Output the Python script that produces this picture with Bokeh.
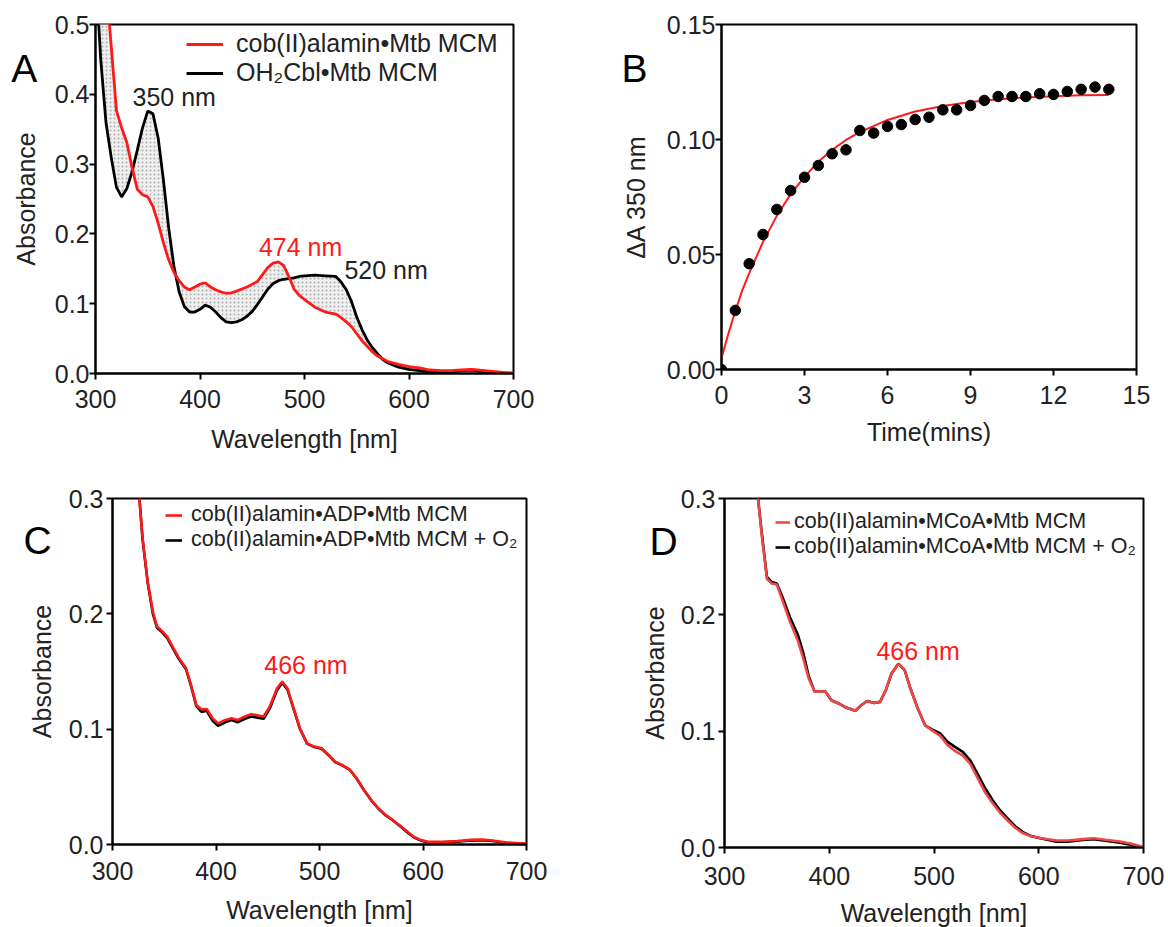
from bokeh.plotting import figure
from bokeh.models import Range1d, FixedTicker, PrintfTickFormatter, Label, Legend, LegendItem
from bokeh.layouts import row, column
from bokeh.embed import file_html
from bokeh.resources import INLINE

FONT = "Liberation Sans"
TXT = "#222222"

# ---------------- Panel A data ----------------
wl_A = [300, 305, 310, 315, 320, 325, 330, 335, 340, 345, 350, 355, 360, 365, 370, 375, 380, 385, 390, 395,
        400, 405, 410, 415, 420, 425, 430, 435, 440, 445, 450, 455, 460, 465, 470, 475, 480, 485, 490, 495,
        500, 510, 520, 530, 535, 540, 545, 550, 555, 560, 565, 570, 575, 580, 590, 600, 610, 620, 630, 640,
        650, 660, 670, 680, 690, 700]
abs_A_oh2cbl = [0.58, 0.45, 0.36, 0.31, 0.267, 0.253, 0.265, 0.289, 0.320, 0.352, 0.376, 0.372, 0.337, 0.277,
                0.209, 0.154, 0.117, 0.096, 0.088, 0.088, 0.092, 0.098, 0.095, 0.088, 0.080, 0.074, 0.073, 0.074,
                0.077, 0.082, 0.089, 0.099, 0.110, 0.121, 0.129, 0.133, 0.135, 0.136, 0.137, 0.139, 0.140,
                0.141, 0.140, 0.139, 0.131, 0.120, 0.103, 0.081, 0.063, 0.048, 0.037, 0.028, 0.020, 0.015,
                0.009, 0.006, 0.004, 0.002, 0.0015, 0.002, 0.004, 0.005, 0.003, 0.001, 0.0005, 0.0]
abs_A_cob = [0.80, 0.68, 0.56, 0.47, 0.377, 0.352, 0.331, 0.295, 0.264, 0.256, 0.253, 0.239, 0.215, 0.187,
             0.163, 0.145, 0.133, 0.124, 0.120, 0.124, 0.128, 0.130, 0.124, 0.120, 0.117, 0.115, 0.1155, 0.118,
             0.121, 0.124, 0.128, 0.132, 0.142, 0.152, 0.158, 0.160, 0.155, 0.139, 0.121, 0.112, 0.106,
             0.095, 0.088, 0.085, 0.080, 0.074, 0.067, 0.057, 0.047, 0.039, 0.031, 0.025, 0.021, 0.017,
             0.013, 0.010, 0.008, 0.005, 0.004, 0.004, 0.005, 0.006, 0.0045, 0.003, 0.0015, 0.001]

# ---------------- Panel B data ----------------
time_B = [0, 0.5, 1, 1.5, 2, 2.5, 3, 3.5, 4, 4.5, 5, 5.5, 6, 6.5, 7, 7.5, 8, 8.5, 9, 9.5,
          10, 10.5, 11, 11.5, 12, 12.5, 13, 13.5, 14]
dA350_B = [0.000, 0.0257, 0.046, 0.0587, 0.0696, 0.0778, 0.0836, 0.0887, 0.0938, 0.0955,
           0.1039, 0.1028, 0.1057, 0.1065, 0.1087, 0.1097, 0.1129, 0.1129, 0.1148, 0.1170,
           0.1187, 0.1187, 0.1187, 0.1199, 0.1196, 0.1209, 0.1218, 0.1228, 0.1218]
fit_time_B = [0, 0.25, 0.5, 0.75, 1, 1.5, 2, 2.5, 3, 3.5, 4, 4.5, 5, 6, 7, 8, 9, 10, 11, 12, 13, 14]
fit_dA350_B = [0.005, 0.0156, 0.0254, 0.0344, 0.0418, 0.0555, 0.0668, 0.0763, 0.0838, 0.0903, 0.0955,
               0.0998, 0.1032, 0.1085, 0.1122, 0.1146, 0.1163, 0.1175, 0.1183, 0.1188, 0.1192, 0.1194]

# ---------------- Panel C data ----------------
wl_C = [320, 326, 329, 334, 339, 343, 348, 353, 359, 364, 371, 376, 381, 386, 391, 397, 402, 409, 415, 421,
        428, 434, 440, 446, 452, 459, 464, 469, 474, 481, 488, 495, 502, 509, 515, 522, 529, 536, 543, 550,
        557, 564, 571, 578, 585, 591, 598, 605, 619, 633, 646, 657, 667, 681, 698, 700]
abs_C_adp = [0.36, 0.30, 0.266, 0.228, 0.202, 0.189, 0.185, 0.180, 0.170, 0.162, 0.153, 0.138, 0.121, 0.117,
             0.1175, 0.109, 0.105, 0.108, 0.1095, 0.108, 0.111, 0.113, 0.112, 0.111, 0.1196, 0.1355, 0.1413,
             0.1355, 0.121, 0.1008, 0.0877, 0.0849, 0.0834, 0.0776, 0.0718, 0.0689, 0.0652, 0.0573, 0.0472,
             0.0385, 0.0313, 0.0255, 0.0211, 0.0162, 0.011, 0.0067, 0.0038, 0.0023, 0.0023, 0.0029, 0.004,
             0.0043, 0.0035, 0.0017, 0.0009, 0.0008]
abs_C_adp_o2 = [0.36, 0.30, 0.265, 0.227, 0.200, 0.188, 0.184, 0.179, 0.169, 0.161, 0.152, 0.137, 0.120, 0.115,
                0.1160, 0.107, 0.103, 0.106, 0.1080, 0.106, 0.109, 0.111, 0.110, 0.109, 0.1180, 0.1340, 0.1400,
                0.1345, 0.1205, 0.1005, 0.0875, 0.0845, 0.0830, 0.0772, 0.0715, 0.0686, 0.0650, 0.0570, 0.0470,
                0.0383, 0.0310, 0.0252, 0.0208, 0.0158, 0.0105, 0.0062, 0.0033, 0.0019, 0.0019, 0.0024, 0.0034,
                0.0037, 0.0030, 0.0013, 0.0006, 0.0005]

# ---------------- Panel D data ----------------
wl_D = [328, 332, 336, 340.5, 345, 350, 355.5, 362.5, 370, 375, 380.5, 386, 391, 396.5, 402, 409, 416, 425,
        430.5, 436, 443, 448.5, 454, 459.5, 466, 472, 477, 484.5, 491.5, 498.5, 506, 513, 520, 527.5, 534.5,
        541.5, 549, 556, 563, 570.5, 577.5, 584.5, 592, 602.5, 617, 627.5, 642, 652.5, 663.5, 677.5, 688.5, 700]
abs_D_mcoa_o2 = [0.34, 0.30, 0.267, 0.2326, 0.2283, 0.227, 0.215, 0.198, 0.183, 0.168, 0.147, 0.134, 0.134,
                 0.134, 0.1266, 0.1238, 0.1203, 0.1175, 0.1223, 0.126, 0.1243, 0.1252, 0.1352, 0.1496, 0.158,
                 0.1524, 0.138, 0.1195, 0.105, 0.1014, 0.098, 0.0908, 0.0865, 0.0822, 0.075, 0.0636, 0.0507,
                 0.0407, 0.0321, 0.0249, 0.0183, 0.0135, 0.010, 0.0077, 0.0050, 0.0050, 0.0065, 0.0072, 0.0058,
                 0.0042, 0.0022, 0.0]
abs_D_mcoa = [0.34, 0.30, 0.265, 0.231, 0.227, 0.226, 0.212, 0.194, 0.178, 0.163, 0.145, 0.134, 0.134, 0.134,
              0.1266, 0.1238, 0.1203, 0.1175, 0.1223, 0.126, 0.1243, 0.1252, 0.1352, 0.1496, 0.158, 0.1524,
              0.138, 0.1195, 0.105, 0.1005, 0.096, 0.088, 0.083, 0.079, 0.072, 0.060, 0.047, 0.038, 0.030,
              0.023, 0.017, 0.0125, 0.0098, 0.0079, 0.0060, 0.0060, 0.0072, 0.0080, 0.0066, 0.0052, 0.0032, 0.0005]

wl_ticks = [300, 400, 500, 600, 700]


def make_fig(xr, yr, fw, fh, bl, br, bt, bb):
    p = figure(x_range=Range1d(*xr), y_range=Range1d(*yr), frame_width=fw, frame_height=fh,
               min_border_left=bl, min_border_right=br, min_border_top=bt, min_border_bottom=bb,
               output_backend="svg", toolbar_location=None, tools="")
    p.xgrid.visible = False
    p.ygrid.visible = False
    p.outline_line_color = "black"
    p.outline_line_width = 2
    p.background_fill_color = "white"
    p.border_fill_color = "white"
    for ax in (p.xaxis[0], p.yaxis[0]):
        ax.axis_line_width = 2
        ax.axis_line_color = "black"
        ax.major_tick_line_width = 2
        ax.major_tick_line_color = "black"
        ax.major_tick_out = 6
        ax.major_tick_in = 0
        ax.minor_tick_out = 0
        ax.minor_tick_in = 0
        ax.major_label_text_font = FONT
        ax.major_label_text_font_size = "25px"
        ax.major_label_text_color = TXT
        ax.axis_label_text_font = FONT
        ax.axis_label_text_font_size = "25px"
        ax.axis_label_text_font_style = "normal"
        ax.axis_label_text_color = TXT
    return p


def add_label(p, x, y, text, size="25px", color=TXT):
    p.add_layout(Label(x=x, y=y, text=text, text_font=FONT, text_font_size=size,
                       text_color=color, text_baseline="alphabetic", text_align="left"))


def add_letter(p, x, y, text, side):
    # panel letter sits outside the frame: put it in a side panel so it is not clipped
    p.add_layout(Label(x=x, y=y, text=text, text_font=FONT, text_font_size="39px",
                       text_color="black", text_baseline="alphabetic", text_align="left"), side)


def style_legend(leg, size, gw, standoff):
    leg.padding = 0
    leg.margin = 0
    leg.spacing = 0
    leg.border_line_color = None
    leg.background_fill_alpha = 0
    leg.label_text_font = FONT
    leg.label_text_font_size = size
    leg.label_text_color = TXT
    leg.glyph_width = gw
    leg.glyph_height = 20
    leg.label_height = 20
    leg.label_standoff = standoff


# ---------------- Panel A ----------------
pA = make_fig((300, 700), (0, 0.5), 418, 349, 95, 55, 24, 97)
pA.xaxis.ticker = FixedTicker(ticks=wl_ticks)
pA.yaxis.ticker = FixedTicker(ticks=[0.0, 0.1, 0.2, 0.3, 0.4, 0.5])
pA.yaxis.formatter = PrintfTickFormatter(format="%.1f")
pA.xaxis.axis_label = "Wavelength [nm]"
pA.yaxis.axis_label = "Absorbance"
pA.xaxis.major_label_standoff = 10
pA.xaxis.axis_label_standoff = 14
pA.yaxis.major_label_standoff = 0
pA.yaxis.axis_label_standoff = 12
pA.varea(x=wl_A, y1=abs_A_cob, y2=abs_A_oh2cbl, fill_color="#efefef", hatch_pattern="dot",
         hatch_color="#b0b0b0", hatch_scale=4, hatch_weight=1)
rA_blk = pA.line(wl_A, abs_A_oh2cbl, line_color="black", line_width=2.8)
rA_red = pA.line(wl_A, abs_A_cob, line_color="#ff1a1a", line_width=2.8)
legA = Legend(items=[LegendItem(label="cob(II)alamin\u2022Mtb MCM", renderers=[rA_red]),
                     LegendItem(label="OH\u2082Cbl\u2022Mtb MCM", renderers=[rA_blk])],
              location=(91, 286))
style_legend(legA, "25px", 37, 13)
pA.add_layout(legA)
add_letter(pA, 219.3, 0.4365, "A", "right")
add_label(pA, 335.4, 0.3962, "350 nm")
add_label(pA, 456.4, 0.1806, "474 nm", color="#ff1a1a")
add_label(pA, 538.2, 0.1481, "520 nm")

# ---------------- Panel B ----------------
pB = make_fig((0, 15), (0, 0.15), 415, 345, 153, 32, 24, 101)
pB.xaxis.ticker = FixedTicker(ticks=[0, 3, 6, 9, 12, 15])
pB.yaxis.ticker = FixedTicker(ticks=[0.0, 0.05, 0.10, 0.15])
pB.yaxis.formatter = PrintfTickFormatter(format="%.2f")
pB.xaxis.axis_label = "Time(mins)"
pB.yaxis.axis_label = "\u0394A 350 nm"
pB.xaxis.major_label_standoff = 10
pB.xaxis.axis_label_standoff = 11
pB.yaxis.major_label_standoff = 0
pB.yaxis.axis_label_standoff = 14
pB.line(fit_time_B, fit_dA350_B, line_color="#ff1a1a", line_width=2)
pB.scatter(time_B, dA350_B, size=10.5, fill_color="black", line_color="black")
add_letter(pB, -3.61, 0.1308, "B", "left")

# ---------------- Panel C ----------------
pC = make_fig((300, 700), (0, 0.3), 414, 346, 112, 42, 27, 84)
pC.xaxis.ticker = FixedTicker(ticks=wl_ticks)
pC.yaxis.ticker = FixedTicker(ticks=[0.0, 0.1, 0.2, 0.3])
pC.yaxis.formatter = PrintfTickFormatter(format="%.1f")
pC.xaxis.axis_label = "Wavelength [nm]"
pC.yaxis.axis_label = "Absorbance"
pC.xaxis.major_label_standoff = 11
pC.xaxis.axis_label_standoff = 13
pC.yaxis.major_label_standoff = 3
pC.yaxis.axis_label_standoff = 10
rC_blk = pC.line(wl_C, abs_C_adp_o2, line_color="black", line_width=2.6)
rC_red = pC.line(wl_C, abs_C_adp, line_color="#ff1a1a", line_width=2.6)
legC = Legend(items=[LegendItem(label="cob(II)alamin\u2022ADP\u2022Mtb MCM", renderers=[rC_red]),
                     LegendItem(label="cob(II)alamin\u2022ADP\u2022Mtb MCM + O\u2082", renderers=[rC_blk])],
              location=(53, 292))
style_legend(legC, "21.5px", 17, 9)
pC.add_layout(legC)
add_letter(pC, 214.0, 0.2636, "C", "right")
add_label(pC, 446.6, 0.1558, "466 nm", color="#ff1a1a")

# ---------------- Panel D ----------------
pD = make_fig((300, 700), (0, 0.3), 419, 349, 156, 25, 28, 80)
pD.xaxis.ticker = FixedTicker(ticks=wl_ticks)
pD.yaxis.ticker = FixedTicker(ticks=[0.0, 0.1, 0.2, 0.3])
pD.yaxis.formatter = PrintfTickFormatter(format="%.1f")
pD.xaxis.axis_label = "Wavelength [nm]"
pD.yaxis.axis_label = "Absorbance"
pD.xaxis.major_label_standoff = 13
pD.xaxis.axis_label_standoff = 11
pD.yaxis.major_label_standoff = 3
pD.yaxis.axis_label_standoff = 9
rD_blk = pD.line(wl_D, abs_D_mcoa_o2, line_color="black", line_width=2.6)
rD_red = pD.line(wl_D, abs_D_mcoa, line_color="#f04646", line_width=2.6)
legD = Legend(items=[LegendItem(label="cob(II)alamin\u2022MCoA\u2022Mtb MCM", renderers=[rD_red]),
                     LegendItem(label="cob(II)alamin\u2022MCoA\u2022Mtb MCM + O\u2082", renderers=[rD_blk])],
              location=(51, 288))
style_legend(legD, "21.5px", 15, 4)
pD.add_layout(legD)
add_letter(pD, 228.4, 0.263, "D", "left")
add_label(pD, 445.0, 0.1687, "466 nm", color="#ff1a1a")

layout = column(row(pA, pB), row(pC, pD))
open("out.html", "w").write(file_html(layout, INLINE))
